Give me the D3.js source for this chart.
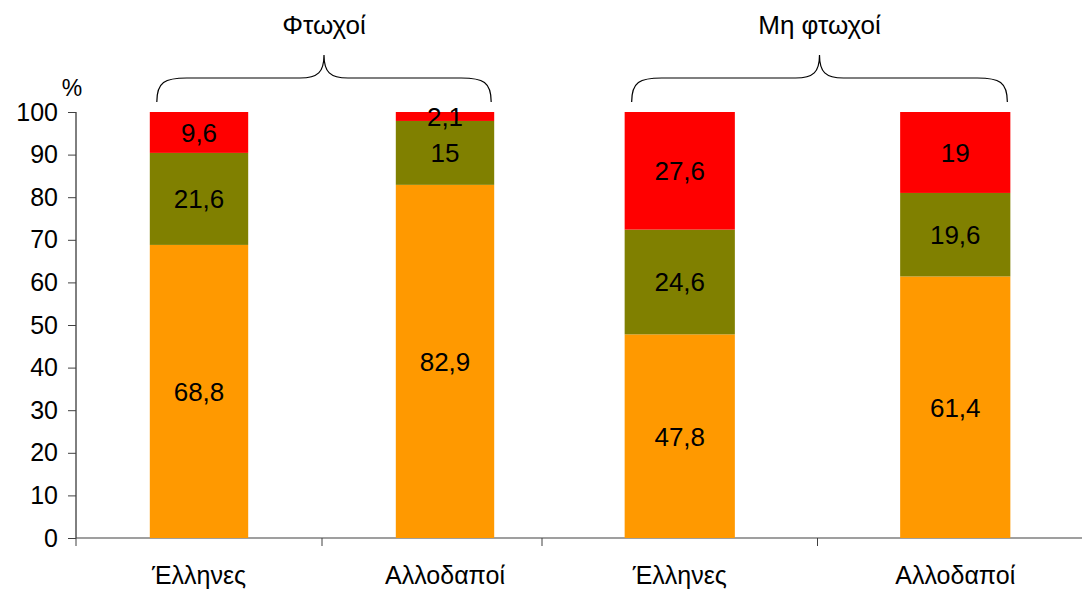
<!DOCTYPE html>
<html>
<head>
<meta charset="utf-8">
<script src="https://cdn.jsdelivr.net/npm/d3@7"></script>
<style>
  html, body { margin: 0; padding: 0; background: #fff; }
  svg { display: block; font-family: "Liberation Sans", Arial, sans-serif; }
</style>
</head>
<body>
<svg id="chart" width="1082" height="590"></svg>
<script>
// Groups and categories
const groups = ["Φτωχοί", "Μη φτωχοί"];
const categories = ["Έλληνες", "Αλλοδαποί"];
const seriesKeys = ["a", "b", "c"];
const seriesColors = ["#FF9900", "#808000", "#FF0000"];

// Stacked shares (%) per group, per category: bottom, middle, top
const poorValues = [
  [68.8, 21.6, 9.6],
  [82.9, 15, 2.1]
];
const nonPoorValues = [
  [47.8, 24.6, 27.6],
  [61.4, 19.6, 19]
];
const groupValues = [poorValues, nonPoorValues];

const yTicks = [0, 10, 20, 30, 40, 50, 60, 70, 80, 90, 100];

const svg = d3.select("#chart");
const axisLeft = 76, axisBottom = 538, axisTop = 112;

const y = d3.scaleLinear().domain([0, 100]).range([axisBottom, axisTop]);

// One band scale per group (the two halves are laid out with different widths)
const groupRanges = [[76, 568], [542, 1093]];
const xs = groupRanges.map(r =>
  d3.scaleBand().domain(categories).range(r).paddingInner(0.6).paddingOuter(0.3)
);

// Y axis
const yAxis = d3.axisLeft(y).tickValues(yTicks).tickSize(8).tickPadding(10).tickFormat(d3.format("d"));
const gy = svg.append("g").attr("transform", `translate(${axisLeft},0)`).call(yAxis);
gy.select(".domain").attr("stroke", "#000").attr("d", `M0,${axisTop}V${axisBottom}`);
gy.selectAll(".tick line").attr("stroke", "#404040");
gy.selectAll(".tick text").attr("font-size", 25).attr("fill", "#000")
  .attr("font-family", "Liberation Sans, Arial, sans-serif");

svg.append("text").attr("x", axisLeft - 4).attr("y", 96)
  .attr("text-anchor", "middle").attr("font-size", 23).text("%");

// X axis line with tick marks at band boundaries
svg.append("line").attr("x1", axisLeft).attr("x2", 1082)
  .attr("y1", axisBottom).attr("y2", axisBottom).attr("stroke", "#404040").attr("stroke-width", 1.2);
const xTickPositions = [];
xs.forEach(s => {
  xTickPositions.push(s.range()[0]);
  xTickPositions.push((s(categories[0]) + s.bandwidth() + s(categories[1])) / 2);
});
svg.selectAll(".xtick").data(xTickPositions).join("line")
  .attr("class", "xtick")
  .attr("x1", d => d).attr("x2", d => d)
  .attr("y1", axisBottom).attr("y2", axisBottom + 8)
  .attr("stroke", "#404040");

// Bars
groupValues.forEach((vals, gi) => {
  const x = xs[gi];
  const rows = categories.map((c, ci) => {
    const o = { cat: c };
    seriesKeys.forEach((k, si) => o[k] = vals[ci][si]);
    return o;
  });
  const stacked = d3.stack().keys(seriesKeys)(rows);
  const g = svg.append("g");

  stacked.forEach((layer, si) => {
    g.selectAll(null).data(layer).join("rect")
      .attr("x", d => x(d.data.cat))
      .attr("width", x.bandwidth())
      .attr("y", d => y(d[1]))
      .attr("height", d => y(d[0]) - y(d[1]))
      .attr("fill", seriesColors[si]);
  });

  stacked.forEach((layer) => {
    g.selectAll(null).data(layer).join("text")
      .attr("x", d => x(d.data.cat) + x.bandwidth() / 2)
      .attr("y", d => (y(d[0]) + y(d[1])) / 2)
      .attr("dy", "0.36em")
      .attr("text-anchor", "middle")
      .attr("font-size", 26)
      .text(d => String(+(d[1] - d[0]).toFixed(1)).replace(".", ","));
  });

  // Category labels
  g.selectAll(null).data(categories).join("text")
    .attr("x", d => x(d) + x.bandwidth() / 2)
    .attr("y", 584)
    .attr("text-anchor", "middle")
    .attr("font-size", 25)
    .text(d => d);

  // Curly brace over the group
  const x0 = x(categories[0]) + 7;
  const x1 = x(categories[1]) + x.bandwidth() - 3;
  const xm = (x0 + x1) / 2;
  const yEnd = y(100) - 10, yMid = y(100) - 34, yTip = y(100) - 57;
  const r = 30;
  const path = d3.path();
  path.moveTo(x0, yEnd);
  path.bezierCurveTo(x0, yMid + 4, x0 + 8, yMid, x0 + r, yMid);
  path.lineTo(xm - r + 6, yMid);
  path.bezierCurveTo(xm - 6, yMid, xm, yMid - 6, xm, yTip);
  path.bezierCurveTo(xm, yMid - 6, xm + 6, yMid, xm + r - 6, yMid);
  path.lineTo(x1 - r, yMid);
  path.bezierCurveTo(x1 - 8, yMid, x1, yMid + 4, x1, yEnd);
  g.append("path").attr("d", path.toString()).attr("fill", "none")
    .attr("stroke", "#000").attr("stroke-width", 1.2);

  g.append("text").attr("x", xm).attr("y", 34)
    .attr("text-anchor", "middle").attr("font-size", 26)
    .text(groups[gi]);
});
</script>
</body>
</html>
